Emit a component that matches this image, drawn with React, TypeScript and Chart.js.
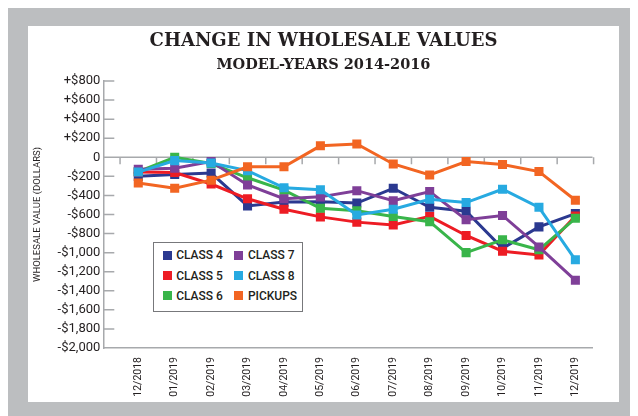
import { useEffect, useRef } from "react";
import { Chart, registerables } from "chart.js";

Chart.register(...registerables);

const months = ["12/2018", "01/2019", "02/2019", "03/2019", "04/2019", "05/2019", "06/2019", "07/2019", "08/2019", "09/2019", "10/2019", "11/2019", "12/2019"];
const class4 = [-200, -180, -165, -510, -470, -465, -480, -325, -525, -565, -955, -730, -590];
const class5 = [-155, -160, -280, -435, -545, -625, -680, -710, -620, -820, -985, -1025, -615];
const class6 = [-150, 0, -65, -215, -345, -535, -560, -620, -675, -1000, -865, -970, -640];
const class7 = [-125, -115, -45, -290, -435, -415, -350, -455, -360, -655, -610, -940, -1290];
const class8 = [-155, -35, -60, -140, -320, -340, -605, -545, -440, -475, -335, -525, -1075];
const pickups = [-270, -325, -240, -100, -100, 120, 140, -70, -185, -45, -75, -150, -450];

const seriesNames = ["CLASS 4", "CLASS 5", "CLASS 6", "CLASS 7", "CLASS 8", "PICKUPS"];
const seriesValues = [class4, class5, class6, class7, class8, pickups];
const seriesColors = ["#2b3990", "#ed1c24", "#39b54a", "#7f3f98", "#27aae1", "#f26522"];

const yMin = -2000;
const yMax = 800;
const yStep = 200;

const titleText = "CHANGE IN WHOLESALE VALUES";
const subtitleText = "MODEL-YEARS 2014-2016";
const yAxisTitle = "WHOLESALE VALUE (DOLLARS)";

const TEXT = "#231f20";
const AXIS = "#a7a9ac";

function fmt(v: number): string {
  if (v === 0) return "0";
  const s = Math.abs(v).toLocaleString("en-US");
  return (v > 0 ? "+$" : "-$") + s;
}

const decorPlugin = {
  id: "decor",
  beforeDatasetsDraw(chart: any) {
    const { ctx, chartArea, scales } = chart;
    const x = scales.x;
    const y = scales.y;
    ctx.save();
    ctx.strokeStyle = AXIS;
    ctx.lineWidth = 1.5;
    const y0 = y.getPixelForValue(0);
    ctx.beginPath();
    ctx.moveTo(chartArea.left, y0);
    ctx.lineTo(chartArea.right, y0);
    for (let i = 0; i <= months.length; i++) {
      const px = x.getPixelForValue(i - 0.5);
      ctx.moveTo(px, y0);
      ctx.lineTo(px, y0 + 7);
    }
    y.ticks.forEach((t: any) => {
      if (t.value === 0 || t.value === yMin) return;
      const py = y.getPixelForValue(t.value);
      ctx.moveTo(chartArea.left, py);
      ctx.lineTo(chartArea.left + 11, py);
    });
    ctx.stroke();
    ctx.restore();
  },
  afterDraw(chart: any) {
    const { ctx, width } = chart;
    ctx.save();
    ctx.fillStyle = TEXT;
    ctx.textAlign = "center";
    ctx.textBaseline = "alphabetic";
    ctx.font = "bold 18px 'DejaVu Serif'";
    ctx.fillText(titleText, width / 2, 20);
    ctx.font = "bold 14.5px 'DejaVu Serif'";
    ctx.fillText(subtitleText, width / 2, 42.8);
    ctx.restore();
  },
};

export default function App() {
  const ref = useRef<HTMLCanvasElement | null>(null);

  useEffect(() => {
    document.documentElement.style.overflow = "hidden";
    if (!ref.current) return;
    const chart = new Chart(ref.current, {
      type: "line",
      data: {
        datasets: seriesNames.map((name, si) => ({
          label: name,
          data: seriesValues[si].map((v, i) => ({ x: i, y: v })),
          borderColor: seriesColors[si],
          backgroundColor: seriesColors[si],
          borderWidth: 3,
          pointStyle: "rect",
          pointRadius: 6.4,
          pointBorderWidth: 0,
          pointBackgroundColor: seriesColors[si],
          tension: 0,
          order: -si,
        })),
      },
      options: {
        animation: false,
        responsive: false,
        layout: { padding: { top: 55, right: 26.5, left: 0, bottom: 0 } },
        plugins: {
          legend: { display: false },
          title: { display: false },
          tooltip: { enabled: false },
        },
        scales: {
          x: {
            type: "linear",
            min: -0.96,
            max: 12.47,
            afterBuildTicks: (s: any) => {
              s.ticks = months.map((_, i) => ({ value: i }));
            },
            afterFit: (s: any) => {
              s.height = 54;
            },
            ticks: {
              autoSkip: false,
              maxRotation: 90,
              minRotation: 90,
              padding: 9,
              color: TEXT,
              font: { family: "Roboto", size: 10.5 },
              callback: (v: any) => months[v as number] ?? "",
            },
            grid: { display: false, drawTicks: false },
            border: { display: true, color: AXIS, width: 1.5 },
          },
          y: {
            min: yMin,
            max: yMax,
            afterFit: (s: any) => {
              s.width = 75.3;
            },
            ticks: {
              stepSize: yStep,
              padding: 3,
              color: TEXT,
              font: { family: "Roboto", size: 13 },
              callback: (v: any) => fmt(v as number),
            },
            grid: { display: false, drawTicks: false },
            border: { display: true, color: AXIS, width: 1.5 },
            title: {
              display: true,
              text: yAxisTitle,
              color: TEXT,
              font: { family: "Roboto", size: 9.5 },
              padding: { top: 4, bottom: 0 },
            },
          },
        },
      },
      plugins: [decorPlugin],
    });
    return () => chart.destroy();
  }, []);

  const legendCols = [0, 0, 0, 1, 1, 1];
  const legendRows = [0, 1, 2, 0, 1, 2];

  return (
    <div style={{ position: "relative", width: 630, height: 408, background: "#bcbec0" }}>
      <div style={{ position: "absolute", left: 20, top: 18, width: 591, height: 376, background: "#fff" }}>
        <canvas ref={ref} width={591} height={376} style={{ display: "block" }} />
        <div
          style={{
            position: "absolute",
            left: 125.3,
            top: 215.7,
            width: 149.4,
            height: 70,
            boxSizing: "border-box",
            border: "1.5px solid #77787b",
            background: "#fff",
            fontFamily: "Roboto",
            fontWeight: 500,
            fontSize: 12,
            color: TEXT,
          }}
        >
          {seriesNames.map((name, i) => (
            <div
              key={name}
              style={{
                position: "absolute",
                left: legendCols[i] === 0 ? 8.5 : 80.2,
                top: 7.5 + legendRows[i] * 20.4,
                height: 10,
                display: "flex",
                alignItems: "center",
                whiteSpace: "nowrap",
              }}
            >
              <span style={{ display: "inline-block", width: 9, height: 9, background: seriesColors[i], marginRight: 4.4 }} />
              <span style={{ lineHeight: "10px" }}>{name}</span>
            </div>
          ))}
        </div>
      </div>
    </div>
  );
}
